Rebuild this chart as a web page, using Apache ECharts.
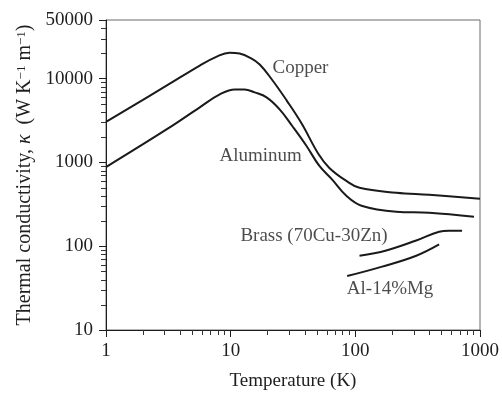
<!DOCTYPE html>
<html>
<head>
<meta charset="utf-8">
<title>Thermal conductivity</title>
<script src="https://cdn.jsdelivr.net/npm/echarts@6/dist/echarts.min.js"></script>
<style>
	html, body { margin: 0; padding: 0; background: #fff; }
	#charts { width: 502px; height: 396px; }
</style>
</head>
<body>
<div id="charts"></div>
<script>
// curves: [temperature K, kappa W/(K m)]
var copper = [[1, 3050], [3.08, 8280], [5.65, 14300], [7.73, 18300], [9.8, 20400], [11.8, 19900],
	[14.2, 17800], [17.1, 14700], [21.7, 9490], [28.1, 5500], [37, 2930], [50.6, 1258],
	[61.9, 859], [84.7, 601], [108, 497], [213, 434], [391, 410], [1000, 368]];
var aluminum = [[1, 880], [3.08, 2490], [5.65, 4540], [8.17, 6470], [10.8, 7430], [12.9, 7430],
	[15.6, 6840], [19.4, 5970], [24.7, 4300], [31.3, 2700], [40.6, 1570], [51.5, 906],
	[65.5, 618], [84.7, 399], [112, 304], [213, 258], [391, 251], [895, 225]];
var brass = [[108, 77], [177, 89], [308, 117], [470, 149], [565, 153], [718, 153]];
var alMg = [[86, 44], [164, 57], [308, 77], [470, 105]];

// curve names and where they sit
var labelNames = ['Copper', 'Aluminum', 'Brass (70Cu-30Zn)', 'Al-14%Mg'];
var labelAt = [[36.3, 13200], [17.4, 1190], [46.6, 134], [190, 30.6]];

// axis range and minor tick values
var xRange = [1, 1000];
var yRange = [10, 50000];
var xMinorTicks = [2, 3, 4, 5, 6, 7, 8, 9, 20, 30, 40, 50, 60, 70, 80, 90,
	200, 300, 400, 500, 600, 700, 800, 900];
var yMinorTicks = [20, 30, 40, 50, 60, 70, 80, 90, 200, 300, 400, 500, 600, 700, 800, 900,
	2000, 3000, 4000, 5000, 6000, 7000, 8000, 9000, 20000, 30000, 40000];

var FONT = '"Liberation Serif", "DejaVu Serif", serif';
var INK = '#1e1e1e';

var ConductivityChart = {

	init: function () {
		this.chart = echarts.init(document.getElementById('charts'), null, { renderer: 'canvas' });
		this.render();
	},

	curve: function (data) {
		return {
			type: 'line',
			data: data,
			smooth: 0.4,
			showSymbol: false,
			silent: true,
			lineStyle: { color: '#1a1a1a', width: 2 }
		};
	},

	// short outward tick for each minor value, placed through the axis scale
	minorTicks: function (values, isX) {
		return {
			type: 'custom',
			coordinateSystem: 'cartesian2d',
			z: 10,
			clip: false,
			silent: true,
			encode: { x: 0, y: 1 },
			data: values.map(function (v) { return isX ? [v, yRange[0]] : [xRange[0], v]; }),
			renderItem: function (params, api) {
				var p = api.coord([api.value(0), api.value(1)]);
				var x = Math.round(p[0]), y = Math.round(p[1]);
				var shape = isX
					? { x: x - 1, y: y, width: 1, height: 5 }
					: { x: x - 5, y: y, width: 5, height: 1 };
				return { type: 'rect', shape: shape, style: { fill: '#333' } };
			}
		};
	},

	render: function () {
		var labels = labelNames.map(function (n, i) {
			return { name: n, value: labelAt[i] };
		});

		var option = {
			animation: false,
			grid: {
				left: 106, right: 20, top: 20, bottom: 64,
				show: true, borderColor: '#6a6a6a', borderWidth: 1
			},
			xAxis: {
				type: 'log',
				logBase: 10,
				min: xRange[0],
				max: xRange[1],
				name: 'Temperature (K)',
				nameLocation: 'middle',
				nameGap: 42,
				nameTextStyle: { fontFamily: FONT, fontSize: 19, color: INK },
				axisLine: { lineStyle: { color: INK, width: 1 } },
				axisTick: { length: 7, lineStyle: { color: INK } },
				axisLabel: {
					fontFamily: FONT, fontSize: 19, color: INK, margin: 12,
					formatter: function (v) { return String(Math.round(v)); }
				},
				splitLine: { show: false }
			},
			yAxis: {
				type: 'log',
				logBase: 10,
				min: yRange[0],
				max: yRange[1],
				name: 'Thermal conductivity, {i|κ}  (W K{sup|−1} m{sup|−1})',
				nameLocation: 'middle',
				nameGap: 69,
				nameTextStyle: {
					fontFamily: FONT, fontSize: 20, color: INK,
					rich: {
						i: { fontFamily: FONT, fontSize: 20, fontStyle: 'italic', color: INK },
						sup: { fontFamily: FONT, fontSize: 13, color: INK, verticalAlign: 'top' }
					}
				},
				axisLine: { lineStyle: { color: INK, width: 1 } },
				axisTick: { length: 7, lineStyle: { color: INK } },
				axisLabel: {
					fontFamily: FONT, fontSize: 19, color: INK, margin: 13,
					formatter: function (v) { return String(Math.round(v)); }
				},
				splitLine: { show: false }
			},
			series: [
				this.curve(copper),
				this.curve(aluminum),
				this.curve(brass),
				this.curve(alMg),
				this.minorTicks(xMinorTicks, true),
				this.minorTicks(yMinorTicks, false),
				{
					type: 'scatter',
					symbolSize: 0,
					silent: true,
					data: labels,
					label: {
						show: true,
						position: [0, 0],
						align: 'center',
						verticalAlign: 'middle',
						formatter: '{b}',
						fontFamily: FONT,
						fontSize: 19,
						color: INK
					}
				}
			]
		};

		this.chart.setOption(option);
	}
};

ConductivityChart.init();
</script>
</body>
</html>
